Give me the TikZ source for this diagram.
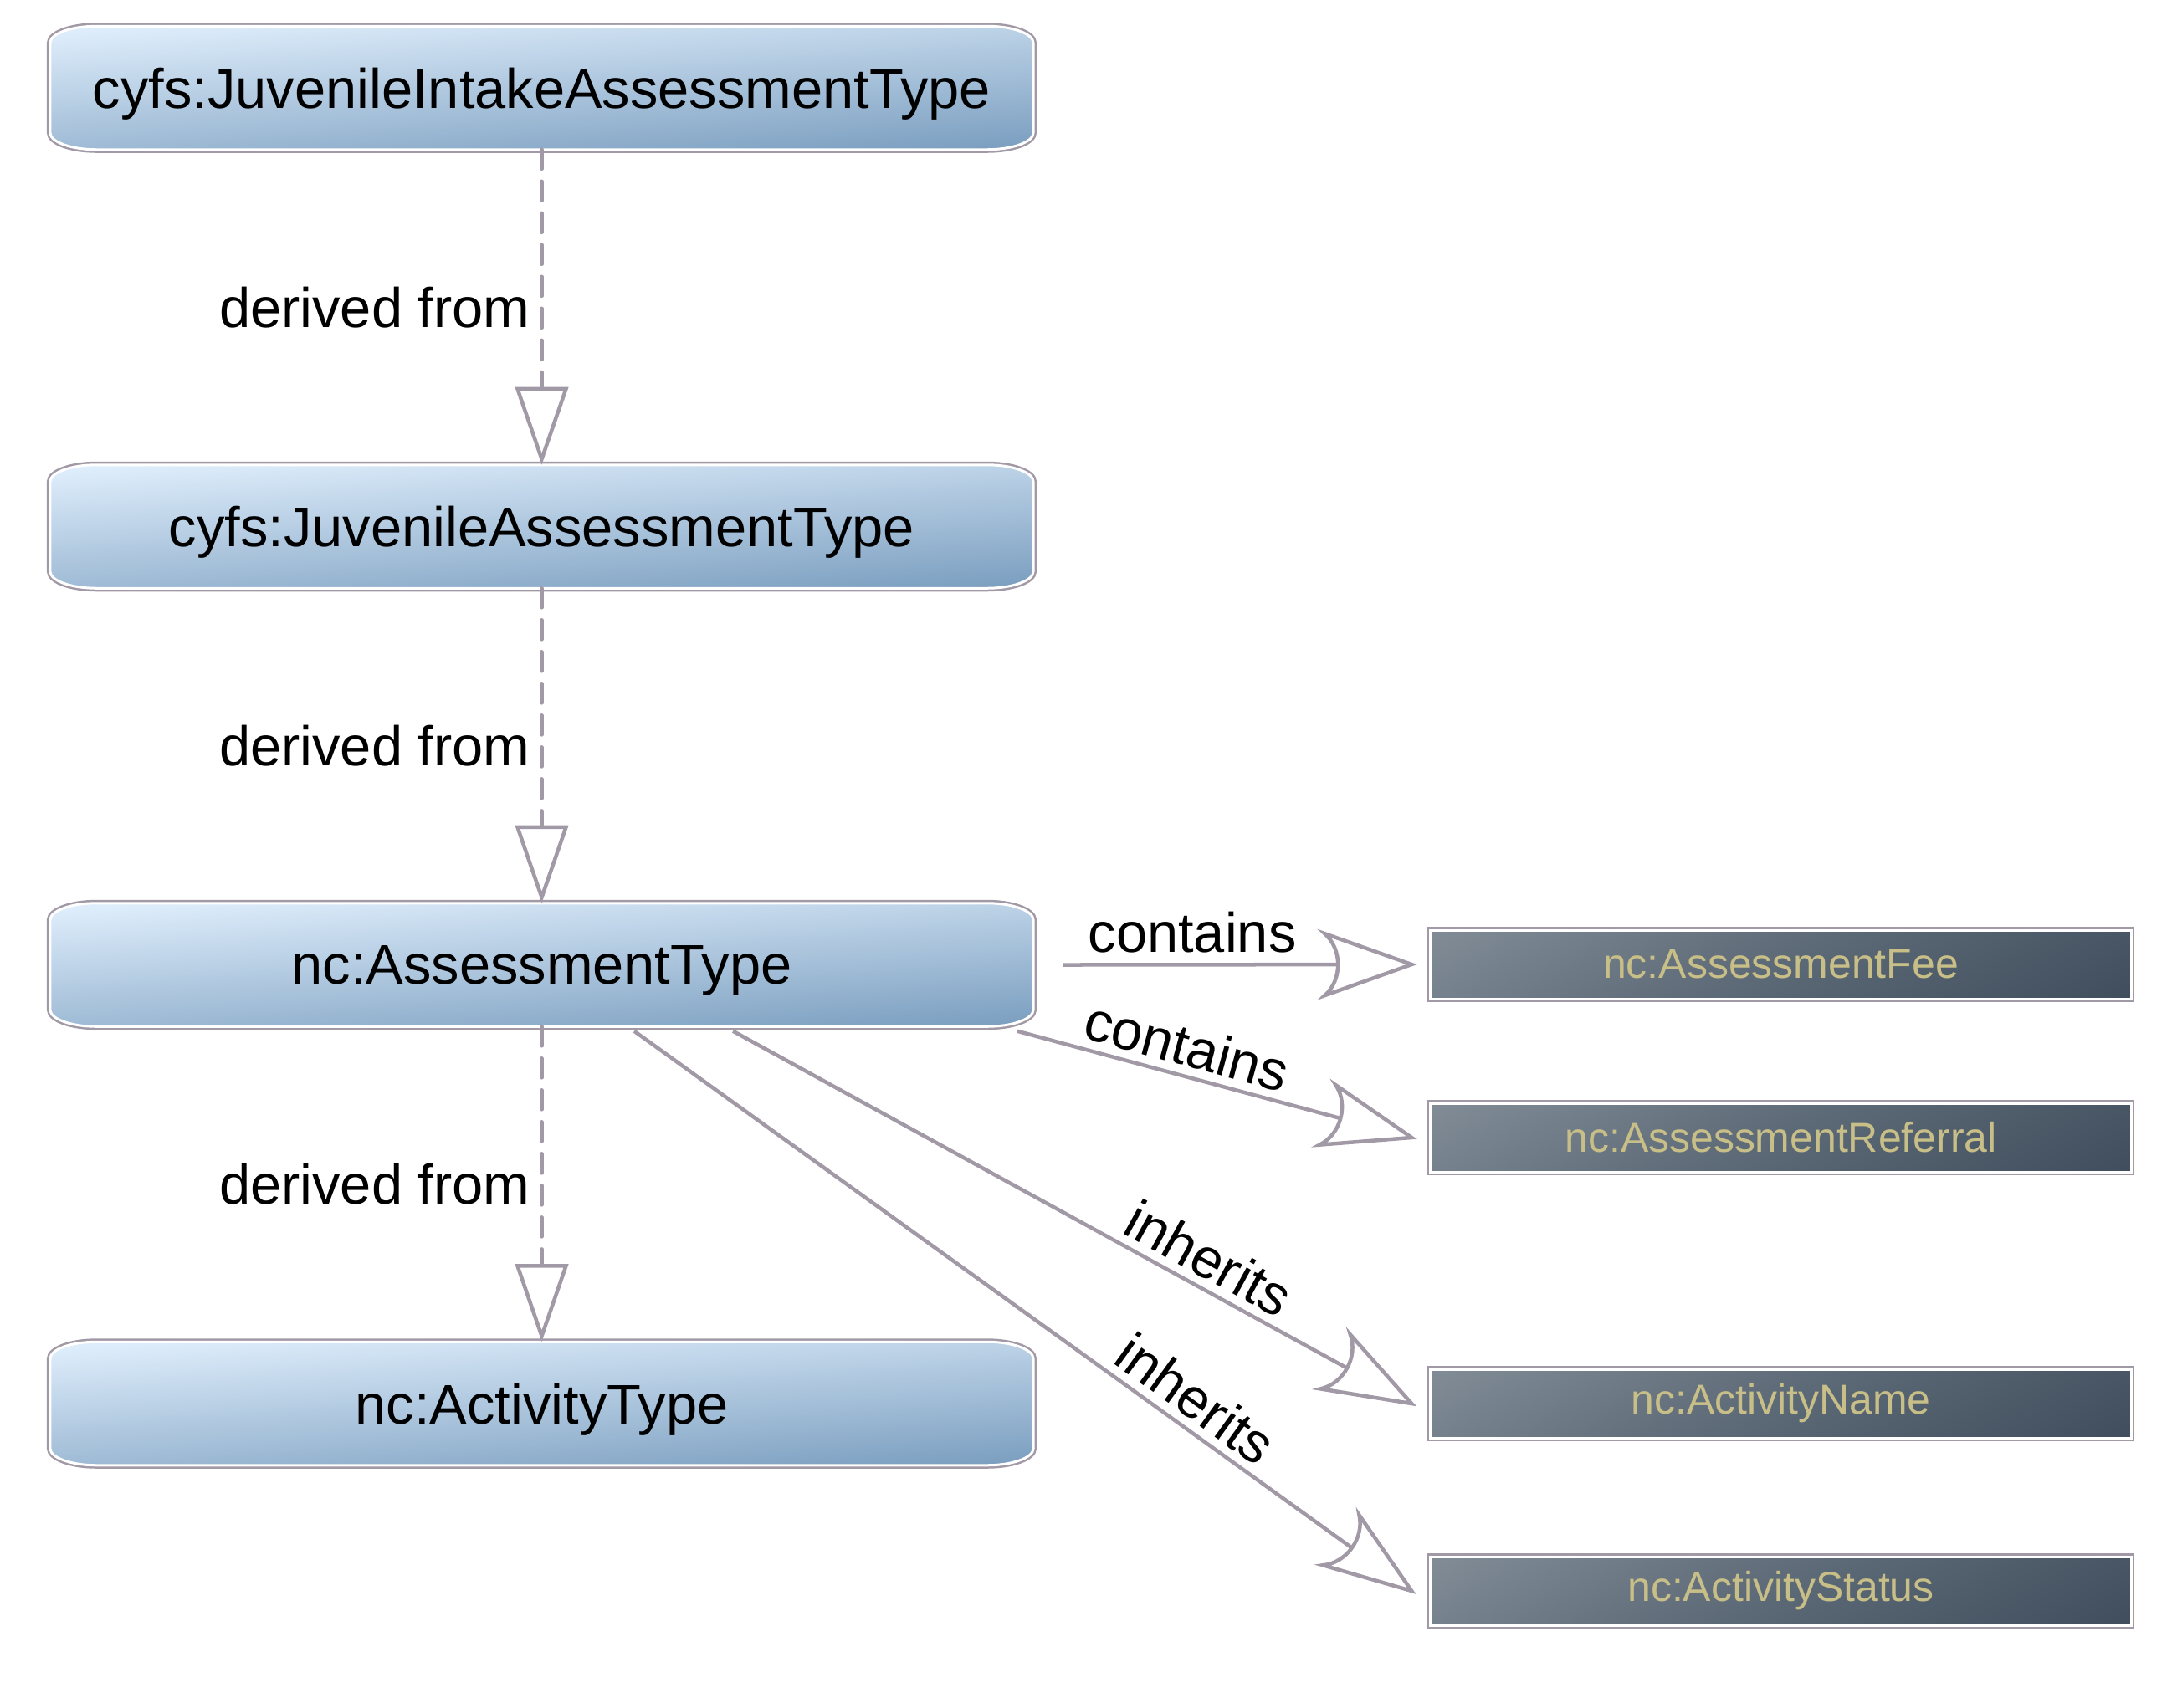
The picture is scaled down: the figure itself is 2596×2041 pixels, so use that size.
\documentclass[tikz,border=0pt]{standalone}
\usepackage{fontspec}
\setmainfont{Liberation Sans}
\usetikzlibrary{arrows.meta,backgrounds}

\definecolor{lc}{RGB}{162,153,166}
\definecolor{bluetop}{RGB}{222,237,251}
\definecolor{bluebot}{RGB}{125,160,193}
\definecolor{darklight}{RGB}{132,143,153}
\definecolor{darkmid}{RGB}{92,105,118}
\definecolor{darkdark}{RGB}{61,75,91}
\definecolor{khaki}{RGB}{200,190,136}

\pgfdeclareverticalshading{darkgrad}{100bp}{color(0bp)=(darkdark); color(36bp)=(darkdark); color(50bp)=(darkmid); color(64bp)=(darklight); color(100bp)=(darklight)}

\newdimen\arrtmp
\pgfdeclarearrow{
  name = CurvedOpen,
  parameters = {\the\pgfarrowlength,\the\pgfarrowwidth,\the\pgfarrowinset},
  setup code = {
    \pgfarrowssettipend{0pt}
    \arrtmp=\pgfarrowinset
    \advance\arrtmp by -\pgfarrowlength
    \pgfarrowssetlineend{\arrtmp}
    \arrtmp=-\pgfarrowlength
    \pgfarrowssetvisualbackend{\arrtmp}
    \pgfarrowssetbackend{\arrtmp}
    \pgfarrowsupperhullpoint{0pt}{0pt}
    \pgfarrowsupperhullpoint{\arrtmp}{.5\pgfarrowwidth}
    \pgfarrowssavethe\pgfarrowlength
    \pgfarrowssavethe\pgfarrowwidth
    \pgfarrowssavethe\pgfarrowinset
  },
  drawing code = {
    \pgfsetdash{}{+0pt}
    \pgfsetmiterjoin
    \arrtmp=\pgfarrowinset
    \multiply\arrtmp by 4
    \divide\arrtmp by 3
    \advance\arrtmp by -\pgfarrowlength
    \pgfpathmoveto{\pgfqpoint{0pt}{0pt}}
    \pgfpathlineto{\pgfqpoint{-\pgfarrowlength}{.5\pgfarrowwidth}}
    \pgfpathcurveto{\pgfqpoint{\arrtmp}{.25\pgfarrowwidth}}{\pgfqpoint{\arrtmp}{-.25\pgfarrowwidth}}{\pgfqpoint{-\pgfarrowlength}{-.5\pgfarrowwidth}}
    \pgfpathclose
    \pgfusepathqstroke
  },
  defaults = {length = 10pt, width = 8pt, inset = 2pt}
}

\newcommand{\ovalshape}[1]{%
  \path[ovalfill] ([xshift=0.55cm]#1.north west) -- ([xshift=-0.55cm]#1.north east)
    .. controls ([xshift=-0.25cm]#1.north east) and ([yshift=-0.09cm]#1.north east) .. ([yshift=-0.2cm]#1.north east)
    -- ([yshift=0.2cm]#1.south east)
    .. controls ([yshift=0.09cm]#1.south east) and ([xshift=-0.25cm]#1.south east) .. ([xshift=-0.55cm]#1.south east)
    -- ([xshift=0.55cm]#1.south west)
    .. controls ([xshift=0.25cm]#1.south west) and ([yshift=0.09cm]#1.south west) .. ([yshift=0.2cm]#1.south west)
    -- ([yshift=-0.2cm]#1.north west)
    .. controls ([yshift=-0.09cm]#1.north west) and ([xshift=0.25cm]#1.north west) .. cycle;}

\tikzset{
  bigfont/.style={font=\fontsize{19}{23}\selectfont},
  bluebox/.style={rectangle, minimum width=11.73cm, minimum height=1.46cm, inner sep=0pt,
    text depth=0pt, bigfont, text=black},
  ovalfill/.style={preaction={draw=lc, line width=0.08cm}, draw=white, line width=0.03cm,
    top color=bluetop, bottom color=bluebot, shading angle=4},
  darkbox/.style={rectangle, minimum width=8.37cm, minimum height=0.82cm, inner sep=0pt,
    preaction={draw=lc, line width=0.08cm}, draw=white, line width=0.03cm, fill=darkdark,
    path picture={\shade[shading=darkgrad, shading angle=28]
      ([xshift=-4.5cm, yshift=-4.5cm]path picture bounding box.center) rectangle
      ([xshift=4.5cm, yshift=4.5cm]path picture bounding box.center);},
    text=khaki, font=\fontsize{14.2}{17}\selectfont},
  conn/.style={draw=lc, line width=0.045cm},
  derive/.style={conn, line cap=round, dash pattern=on 0.23cm off 0.15cm,
    -{Triangle[open, length=0.93cm, width=0.63cm]}},
  relate/.style={conn, -{CurvedOpen[length=1.04cm, width=0.74cm, inset=0.16cm]}},
  dlbl/.style={bigfont, text=black, left},
  elbl/.style={bigfont, text=black, inner sep=2.6pt, above, sloped}
}

\begin{document}
\begin{tikzpicture}[x=0.01cm, y=-0.01cm]
  \useasboundingbox (0,0) rectangle (2596,2041);

  \node[bluebox] (b1) at (647.5,105) {cyfs:JuvenileIntakeAssessmentType};
  \node[bluebox] (b2) at (647.5,629.5) {cyfs:JuvenileAssessmentType};
  \node[bluebox] (b3) at (647.5,1153.5) {nc:AssessmentType};
  \node[bluebox] (b4) at (647.5,1678) {nc:ActivityType};

  \begin{scope}[on background layer]
    \ovalshape{b1}
    \ovalshape{b2}
    \ovalshape{b3}
    \ovalshape{b4}
  \end{scope}

  \node[darkbox] (fee) at (2128.5,1153) {nc:AssessmentFee};
  \node[darkbox] (ref) at (2128.5,1360) {nc:AssessmentReferral};
  \node[darkbox] (aname) at (2128.5,1678) {nc:ActivityName};
  \node[darkbox] (astat) at (2128.5,1902) {nc:ActivityStatus};

  \draw[derive] (b1.south) -- (b2.north) node[midway, dlbl] {derived from};
  \draw[derive] (b2.south) -- (b3.north) node[midway, dlbl] {derived from};
  \draw[derive] (b3.south) -- (b4.north) node[midway, dlbl] {derived from};

  \coordinate (s1) at ([xshift=0.36cm]b3.east);
  \coordinate (s2) at ([xshift=-0.19cm, yshift=-0.055cm]b3.south east);
  \coordinate (s3) at ([xshift=2.285cm, yshift=-0.055cm]b3.south);
  \coordinate (s4) at ([xshift=1.105cm, yshift=-0.055cm]b3.south);

  \draw[relate] (s1) -- ([xshift=-0.21cm]fee.west) node[pos=0.37, elbl, inner sep=3.3pt] {contains};
  \draw[relate] (s2) -- ([xshift=-0.21cm]ref.west) node[pos=0.41, elbl] {contains};
  \draw[relate] (s3) -- ([xshift=-0.21cm]aname.west) node[pos=0.68, elbl] {inherits};
  \draw[relate] (s4) -- ([xshift=-0.21cm]astat.west) node[pos=0.70, elbl] {inherits};
\end{tikzpicture}
\end{document}
